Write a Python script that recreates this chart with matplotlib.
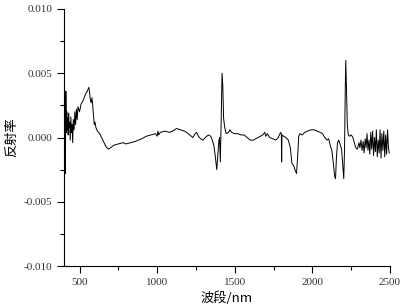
import matplotlib
matplotlib.use("Agg")
import matplotlib.pyplot as plt
from matplotlib.ticker import MultipleLocator

# wavelength (nm) and reflectance
wl = [400, 403, 406, 409, 412, 415, 418, 421, 424, 427, 430, 433, 436, 440, 444,
      448, 452, 456, 460, 465, 470, 475, 480, 485, 490, 500, 510, 520, 530, 540,
      550, 560, 565, 570, 575, 580, 585, 590, 595, 600, 605, 615, 630, 650, 670,
      685, 700, 720, 750, 780, 800, 830, 860, 900, 930, 960, 990, 1000, 1005, 1010,
      1020, 1050, 1080, 1100, 1125, 1150, 1175, 1190, 1210, 1230, 1245, 1255, 1265, 1280, 1295,
      1310, 1330, 1345, 1355, 1365, 1375, 1384, 1392, 1398, 1402, 1407, 1412, 1418, 1423, 1428,
      1435, 1445, 1460, 1468, 1480, 1500, 1520, 1540, 1560, 1580, 1600, 1620, 1650, 1680, 1693,
      1700, 1710, 1725, 1745, 1765, 1780, 1795, 1800, 1802, 1804, 1815, 1830, 1845, 1858, 1868,
      1880, 1890, 1898, 1905, 1912, 1920, 1935, 1950, 1970, 1990, 2010, 2030, 2050, 2065, 2080,
      2095, 2105, 2115, 2125, 2135, 2143, 2149, 2155, 2162, 2170, 2180, 2188, 2195, 2202, 2207,
      2212, 2215, 2219, 2225, 2231, 2240, 2250, 2261, 2270, 2280, 2290, 2300, 2306, 2313, 2320,
      2327, 2333, 2340, 2346, 2352, 2358, 2364, 2370, 2376, 2382, 2388, 2394, 2400, 2406, 2412,
      2418, 2424, 2430, 2436, 2442, 2448, 2454, 2460, 2466, 2472, 2478, 2484, 2490, 2495]

refl = [0.0022, 0.0005, 0.0018, -0.0028, 0.0036, 0.0004, 0.0020, 0.0006, 0.0015, 0.0002,
        0.0019, 0.0008, 0.0012, -0.0002, 0.0016, 0.0004, 0.0010, -0.0004, 0.0014, 0.0006,
        0.0020, 0.0010, 0.0022, 0.0014, 0.0024, 0.0020, 0.0026, 0.0028, 0.0031, 0.0034,
        0.0036, 0.0039, 0.0035, 0.0029, 0.0027, 0.0031, 0.0025, 0.0018, 0.0010, 0.0012,
        0.0008, 0.0005, 0.0003, -0.0002, -0.0007, -0.0009, -0.0008, -0.0006, -0.0005, -0.0004,
        -0.0005, -0.0004, -0.0003, -0.0001, 0.0001, 0.0002, 0.0003, 0.0001, 0.0005, 0.0002,
        0.0004, 0.0005, 0.0004, 0.0005, 0.0007, 0.0006, 0.0005, 0.0004, 0.0002, 0.0000,
        0.0003, 0.0004, 0.0001, -0.0001, -0.0002, 0.0000, 0.0002, 0.0001, -0.0002, -0.0006,
        -0.0015, -0.0025, -0.0012, -0.0002, 0.0000, -0.0019, 0.0010, 0.0050, 0.0040, 0.0015,
        0.0008, 0.0003, 0.0004, 0.0006, 0.0004, 0.0003, 0.0003, 0.0002, 0.0002, 0.0000,
        -0.0002, -0.0002, 0.0000, 0.0002, 0.0004, 0.0001, 0.0003, 0.0000, -0.0001, -0.0002,
        0.0000, 0.0004, 0.0003, -0.0019, 0.0002, 0.0001, 0.0000, -0.0002, -0.0008, -0.0020,
        -0.0022, -0.0026, -0.0028, -0.0015, 0.0001, 0.0003, 0.0002, 0.0004, 0.0005, 0.0006,
        0.0006, 0.0005, 0.0004, 0.0003, 0.0000, -0.0002, -0.0001, -0.0006, -0.0010, -0.0020,
        -0.0030, -0.0032, -0.0015, -0.0004, -0.0002, -0.0006, -0.0009, -0.0020, -0.0032, -0.0010,
        0.0040, 0.0060, 0.0040, 0.0010, 0.0002, 0.0001, 0.0002, 0.0000, -0.0004, -0.0008,
        -0.0009, -0.0004, -0.0008, -0.0002, -0.0010, -0.0003, -0.0012, -0.0001, -0.0008, 0.0003,
        -0.0010, -0.0002, -0.0013, 0.0004, -0.0009, 0.0005, -0.0014, 0.0000, -0.0011, 0.0006,
        -0.0015, -0.0002, -0.0012, 0.0006, -0.0016, 0.0003, -0.0010, 0.0005, -0.0015, 0.0002,
        -0.0013, 0.0006, -0.0008, -0.0012]

plt.rcParams['font.family'] = ['Liberation Serif', 'Noto Sans CJK SC']

fig = plt.figure(figsize=(4.05, 3.08), dpi=100)
ax = fig.add_axes([0.158, 0.136, 0.805, 0.835])
ax.plot(wl, refl, color='black', lw=0.7)

ax.set_xlim(400, 2500)
ax.set_ylim(-0.010, 0.010)
ax.xaxis.set_major_locator(MultipleLocator(500))
ax.xaxis.set_minor_locator(MultipleLocator(250))
ax.yaxis.set_major_locator(MultipleLocator(0.005))
ax.yaxis.set_minor_locator(MultipleLocator(0.0025))
ax.yaxis.set_major_formatter(plt.FuncFormatter(lambda v, p: "%.3f" % v))

for s in ['top', 'right']:
    ax.spines[s].set_visible(False)
ax.tick_params(which='major', direction='out', length=5, width=0.8, labelsize=8, labelcolor='#333333')
ax.tick_params(which='minor', direction='out', length=3, width=0.8)

ax.set_xlabel("波段/nm", family=['Noto Sans CJK SC'], fontsize=9.5, labelpad=3)
ax.set_ylabel("反射率", family=['Noto Sans CJK SC'], fontsize=9.5, labelpad=4)

fig.savefig("out.png", dpi=100)
